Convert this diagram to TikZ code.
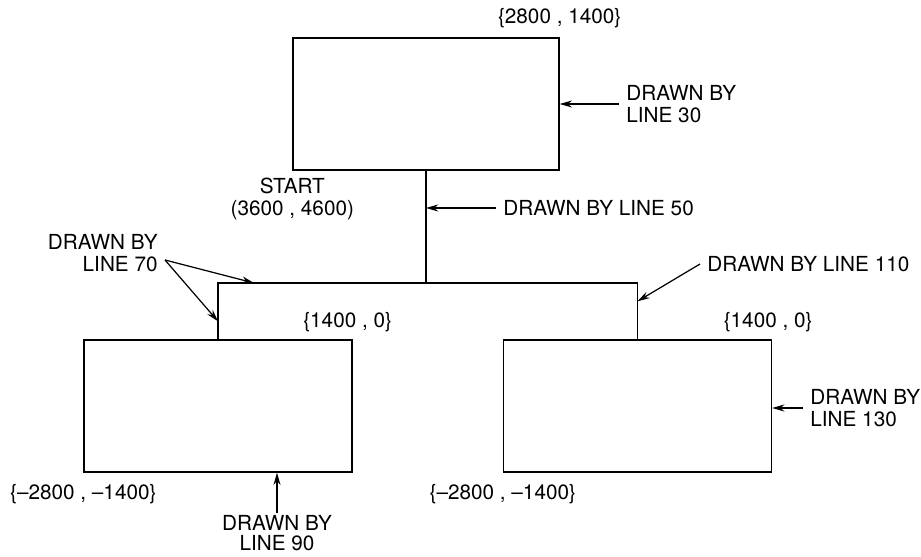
\documentclass[tikz,border=0pt]{standalone}
\usepackage{fontspec}
\setmainfont{TeX Gyre Heros}
\usetikzlibrary{arrows.meta, positioning, calc}
\tikzset{
  block/.style = {
    rectangle, draw=black, line width=0.8pt,
    minimum width=5.36cm, minimum height=2.64cm, inner sep=0pt
  },
  coord/.style = {font=\fontsize{11.8}{12.5}\selectfont, inner sep=1pt},
  note/.style = {
    font=\fontsize{11.8}{12.5}\selectfont,
    inner xsep=4pt, inner ysep=1pt
  },
  wire/.style = {line width=0.8pt},
  myarrow/.style = {-{Stealth[length=7pt, width=4pt]}, line width=0.7pt}
}

\begin{document}
\begin{tikzpicture}[x=0.02cm, y=-0.02cm]
  \useasboundingbox (0,0) rectangle (921,557);
  % Rectangles
  \node[block, minimum width=5.32cm] (upper) at (426,104) {};
  \node[block] (leftbox)  at (218,406) {};
  \node[block] (rightbox) at (637.5,406) {};
  % Connecting lines
  \coordinate (bus) at (426,283);
  \draw[wire] (upper.south) -- (bus);
  \draw[wire] (leftbox.north) |- (bus) -| (rightbox.north);
  % Corner coordinates
  \node[coord, above=1.5mm of upper.north east] (c1) {\{2800 , 1400\}};
  \node[coord, below=1mm of upper.south west, align=center] (start)
    {START\\(3600 , 4600)};
  \node[coord, above=1mm of leftbox.north east, xshift=-0.1cm] (c2) {\{1400 , 0\}};
  \node[coord, above=1mm of rightbox.north east, xshift=-0.08cm] (c3) {\{1400 , 0\}};
  \node[coord, below=2mm of leftbox.south west] (c4) {\{–2800 , –1400\}};
  \node[coord, below=2mm of rightbox.south west] (c5) {\{–2800 , –1400\}};
  % Notes
  \node[note, anchor=west, align=left] (n30) at (619,104) {DRAWN BY\\LINE 30};
  \node[note, anchor=west] (n50) at (496,208) {DRAWN BY LINE 50};
  \node[note, anchor=east, align=right] (n70) at (165,253) {DRAWN BY\\LINE 70};
  \node[note, anchor=north, align=center, font=\fontsize{11.8}{11.5}\selectfont]
    (n90) at (277,513) {DRAWN BY\\LINE 90};
  \node[note, anchor=west] (n110) at (700,264) {DRAWN BY LINE 110};
  \node[note, anchor=west, align=left] (n130) at (803,408) {DRAWN BY\\LINE 130};
  \coordinate (s70)  at ($(n70.east)+(0,7)$);
  \coordinate (t70a) at ($(leftbox.north |- bus)+(36,0)$);
  \coordinate (t70b) at ($(leftbox.north)+(0,-18)$);
  \coordinate (t110) at ($(rightbox.north)+(0,-38)$);
  % Arrows
  \draw[myarrow] (n30.west)  -- (n30.west -| upper.east);
  \draw[myarrow] (n50.west)  -- (n50.west -| upper.south);
  \draw[myarrow] (s70)       -- (t70a);
  \draw[myarrow] (s70)       -- (t70b);
  \draw[myarrow] (n90.north) -- (n90.north |- leftbox.south);
  \draw[myarrow] (n110.west) -- (t110);
  \draw[myarrow] (n130.west) -- (n130.west -| rightbox.east);
\end{tikzpicture}
\end{document}
